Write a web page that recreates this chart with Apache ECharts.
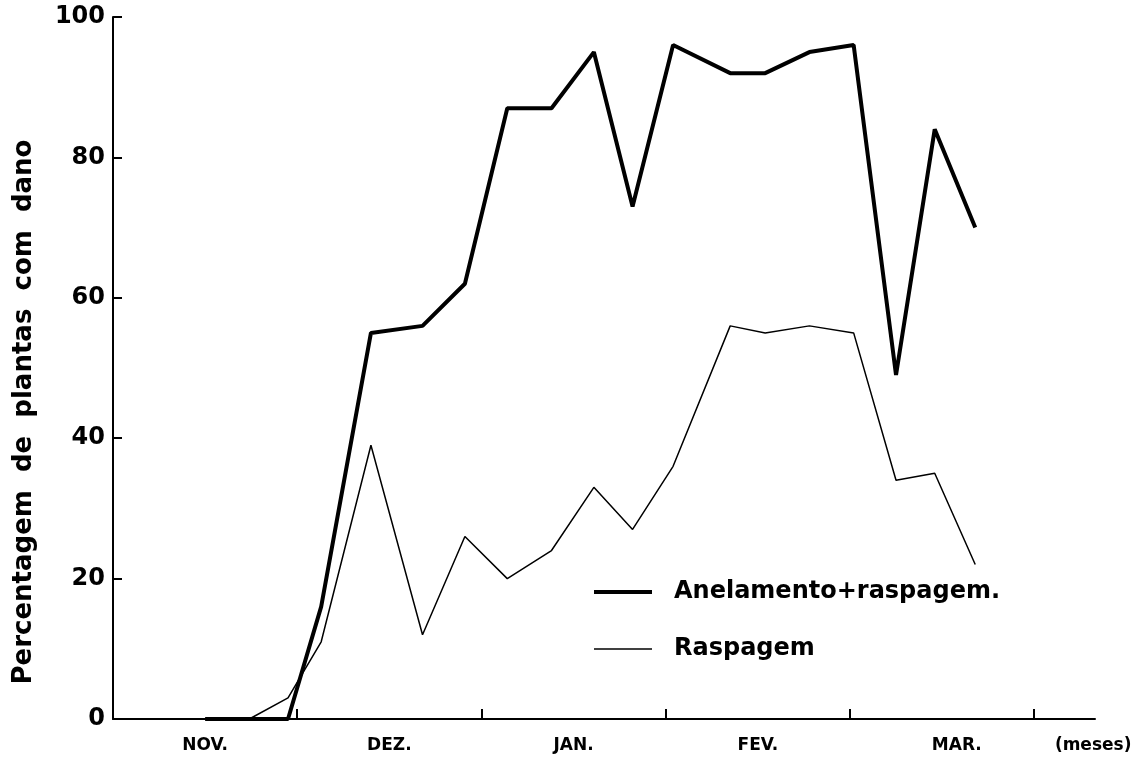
<!DOCTYPE html>
<html>
<head>
<meta charset="utf-8">
<script src="https://cdn.jsdelivr.net/npm/echarts@6/dist/echarts.min.js"></script>
<style>
  html, body { margin: 0; padding: 0; background: #fff; }
  #chart { width: 1138px; height: 757px; }
</style>
</head>
<body>
<div id="chart"></div>
<script>
// x position of each sample, in months from the start of November
var weeks = [0.50, 0.74, 0.95, 1.13, 1.40, 1.68, 1.91, 2.14, 2.38, 2.61, 2.82, 3.04, 3.35, 3.54, 3.78, 4.02, 4.25, 4.46, 4.68];
var anelamento = [0, 0, 0, 16, 55, 56, 62, 87, 87, 95, 73, 96, 92, 92, 95, 96, 49, 84, 70];
var raspagem = [0, 0, 3, 11, 39, 12, 26, 20, 24, 33, 27, 36, 56, 55, 56, 55, 34, 35, 22];

var monthNames = ['NOV.', 'DEZ.', 'JAN.', 'FEV.', 'MAR.', '(meses)'];
var monthLabelPos = [0.5, 1.5, 2.5, 3.5, 4.58, 5.32];
var monthTicks = [1, 2, 3, 4, 5];

var seriesNames = ['Anelamento+raspagem.', 'Raspagem'];

function pairs(xs, ys) {
  return xs.map(function (x, i) { return [x, ys[i]]; });
}

var font = '"DejaVu Sans", "Liberation Sans", Arial, sans-serif';
var chart = echarts.init(document.getElementById('chart'));

chart.setOption({
  backgroundColor: '#fff',
  animation: false,
  grid: {
    left: 113, right: 43, top: 17, bottom: 38,
    containLabel: false, outerBoundsMode: 'none'
  },
  legend: {
    orient: 'vertical',
    left: 592,
    top: 580,
    itemWidth: 58,
    itemHeight: 14,
    itemGap: 33,
    padding: 0,
    itemStyle: { opacity: 0 },
    data: [
      { name: seriesNames[0], lineStyle: { width: 4, color: '#000' } },
      { name: seriesNames[1], lineStyle: { width: 1.5, color: '#000' } }
    ],
    textStyle: {
      fontFamily: font, fontWeight: 'bold', fontSize: 24, color: '#000',
      padding: [0, 0, 0, 17]
    }
  },
  xAxis: {
    type: 'value',
    min: 0,
    max: 5.33,
    interval: 1,
    splitLine: { show: false },
    axisLine: { lineStyle: { color: '#000', width: 2 } },
    axisTick: {
      inside: true, length: 10,
      customValues: monthTicks,
      lineStyle: { color: '#000', width: 2 }
    },
    axisLabel: {
      customValues: monthLabelPos,
      margin: 18,
      fontFamily: font, fontWeight: 'bold', fontSize: 17, color: '#000',
      formatter: function (v) {
        var i = monthLabelPos.indexOf(v);
        return i >= 0 ? monthNames[i] : '';
      }
    }
  },
  yAxis: {
    type: 'value',
    min: 0,
    max: 100,
    interval: 20,
    splitLine: { show: false },
    axisLine: { show: true, lineStyle: { color: '#000', width: 2 } },
    axisTick: { show: true, inside: true, length: 9, lineStyle: { color: '#000', width: 2 } },
    axisLabel: {
      margin: 8,
      fontFamily: font, fontWeight: 'bold', fontSize: 24, color: '#000'
    },
    name: 'Percentagem  de  plantas  com  dano',
    nameLocation: 'middle',
    nameGap: 76,
    nameRotate: 90,
    nameTextStyle: {
      fontFamily: font, fontWeight: 'bold', fontSize: 26, color: '#000',
      padding: [0, 88, 0, 0]
    }
  },
  series: [
    {
      name: seriesNames[0],
      type: 'line',
      symbol: 'none',
      data: pairs(weeks, anelamento),
      lineStyle: { color: '#000', width: 4 },
      itemStyle: { color: '#000' },
      z: 3
    },
    {
      name: seriesNames[1],
      type: 'line',
      symbol: 'none',
      data: pairs(weeks, raspagem),
      lineStyle: { color: '#000', width: 1.5 },
      itemStyle: { color: '#000' },
      z: 2
    }
  ]
});
</script>
</body>
</html>
